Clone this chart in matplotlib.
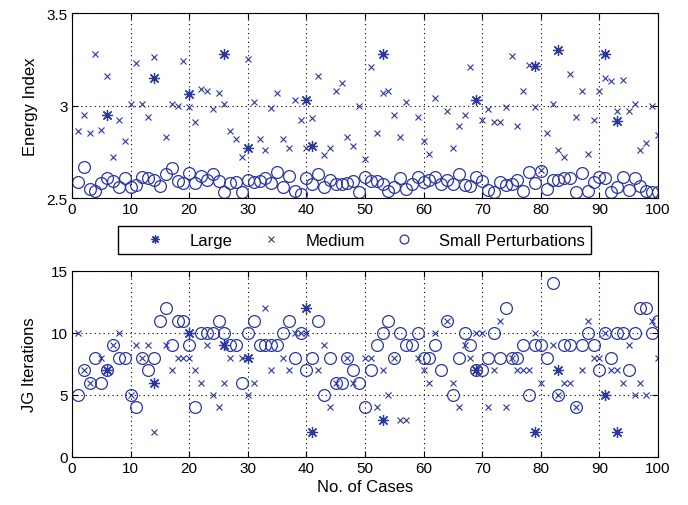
import numpy as np
import matplotlib
matplotlib.use("Agg")
import matplotlib.pyplot as plt

nan = np.nan
cases = np.arange(1, 101)

# ---- Energy index per case ----
energy_small = [
    2.585, 2.67, 2.55, 2.54, 2.58, 2.61, 2.59, 2.56, 2.61, 2.56,
    2.57, 2.615, 2.61, 2.60, 2.565, 2.63, 2.66, 2.59, 2.58, 2.635,
    2.58, 2.62, 2.60, 2.63, 2.59, 2.53, 2.58, 2.585, 2.53, 2.60,
    2.585, 2.59, 2.61, 2.58, 2.64, 2.56, 2.62, 2.54, 2.52, 2.61,
    2.576, 2.63, 2.56, 2.60, 2.576, 2.576, 2.58, 2.59, 2.535, 2.615,
    2.59, 2.59, 2.576, 2.54, 2.56, 2.61, 2.55, 2.576, 2.615, 2.585,
    2.60, 2.615, 2.576, 2.597, 2.576, 2.63, 2.57, 2.566, 2.615, 2.59,
    2.545, 2.535, 2.585, 2.57, 2.576, 2.60, 2.54, 2.64, 2.58, 2.648,
    2.55, 2.597, 2.60, 2.608, 2.61, 2.535, 2.633, 2.54, 2.585, 2.615,
    2.61, 2.535, 2.56, 2.615, 2.545, 2.61, 2.566, 2.54, 2.535, 2.53,
]
energy_medium = [
    2.86, 2.95, 2.85, 3.28, 2.87, 3.16, 2.72, 2.92, 2.81, 3.01,
    3.23, 3.01, 2.94, 3.26, nan, 2.83, 3.01, 3.00, 3.24, 2.99,
    2.91, 3.09, 3.08, 2.98, 3.07, 3.01, 2.86, 2.82, 2.72, 3.25,
    3.02, 2.82, 2.76, 2.985, 3.07, 2.82, 2.77, 3.03, 2.92, 2.77,
    2.93, 3.16, 2.73, 2.77, 3.08, 3.12, 2.83, 2.78, 3.00, 2.71,
    3.21, 2.85, 3.07, 3.08, 2.95, 2.83, 3.02, nan, 2.94, 2.81,
    2.74, 3.04, nan, 2.97, 2.77, 2.89, 2.95, 3.21, nan, 2.92,
    2.98, 2.91, 2.91, 2.99, 3.27, 2.89, 3.08, 3.22, 2.99, 2.65,
    2.85, 3.01, 2.76, 2.72, 3.17, 2.94, 3.08, 2.74, 2.92, 3.08,
    3.15, 3.13, 2.97, 3.14, 2.97, 3.01, 2.76, 2.80, 3.00, 2.84,
]
large_cases = [6, 14, 20, 26, 30, 40, 41, 53, 69, 79, 83, 91, 93]
energy_large = [2.95, 3.15, 3.06, 3.28, 2.77, 3.03, 2.78, 3.28, 3.03, 3.215, 3.30, 3.28, 2.915]

# ---- JG iterations per case ----
iter_small = [
    5, 7, 6, 8, 6, 7, 9, 8, 8, 5,
    4, 8, 7, 8, 11, 12, 9, 11, 11, 9,
    4, 10, 10, 10, 11, 10, 9, 9, 6, 10,
    11, 9, 9, 9, 9, 10, 11, 8, 10, 7,
    8, 11, 5, 8, 6, 6, 8, 7, 6, 4,
    7, 9, 10, 11, 8, 10, 9, 9, 10, 8,
    8, 9, 7, 11, 5, 8, 10, 9, 7, 7,
    8, 10, 8, 12, 8, 8, 9, 5, 9, 9,
    8, 14, 5, 9, 9, 4, 9, 10, 9, 7,
    10, 8, 10, 10, 7, 10, 12, 12, 10, 11,
]
iter_medium = [
    10, 7, 6, nan, 8, 7, 9, 10, nan, 5,
    9, 8, 9, 2, nan, 9, 7, 8, 8, 8,
    7, 6, 9, 5, 4, 6, 8, nan, 8, 5,
    6, nan, 12, 7, nan, 8, 7, 10, 10, 10,
    nan, 7, 9, 4, 6, nan, 8, 6, nan, 8,
    8, 4, 7, 5, 8, 3, 3, nan, 8, 7,
    6, 10, nan, 11, 6, 4, 9, 8, 10, 10,
    4, 7, 11, 4, 8, 7, 7, 7, 10, 6,
    nan, 9, 5, 6, 6, 4, 7, 11, 8, 8,
    10, 7, 7, 6, 9, 5, 6, 5, 11, 8,
]
iter_large = [7, 6, 10, 9, 8, 12, 2, 3, 7, 2, 7, 5, 2]

blue = "#2a37a0"
plt.rcParams["font.family"] = ["Liberation Sans", "DejaVu Sans"]
plt.rcParams["font.size"] = 11

fig = plt.figure(figsize=(6.88, 5.06), dpi=100)
ax1 = fig.add_axes([0.1047, 0.6067, 0.8517, 0.3656])
ax2 = fig.add_axes([0.1047, 0.0949, 0.8517, 0.3676])

star = (8, 2, 0)
style_large = dict(linestyle="none", marker=star, markersize=8, color=blue, mew=0.9)
style_medium = dict(linestyle="none", marker="x", markersize=5, color=blue, mew=0.8)
style_small = dict(linestyle="none", marker="o", markersize=8.5, mfc="none", mec=blue, mew=0.9)

for ax, lg, md, sm in [(ax1, energy_large, energy_medium, energy_small),
                       (ax2, iter_large, iter_medium, iter_small)]:
    h1, = ax.plot(large_cases, lg, **style_large)
    h2, = ax.plot(cases, md, **style_medium)
    h3, = ax.plot(cases, sm, **style_small)
    ax.set_xlim(0, 100)
    ax.set_xticks(np.arange(0, 101, 10))
    ax.grid(True, linestyle=(0, (1, 3)), color="black", linewidth=0.8)
    ax.tick_params(direction="in", top=True, right=True, length=4, labelsize=11, pad=3)
    for s in ax.spines.values():
        s.set_linewidth(0.8)

ax1.set_ylim(2.5, 3.5)
ax1.set_yticks([2.5, 3.0, 3.5])
ax1.set_yticklabels(["2.5", "3", "3.5"])
ax1.set_ylabel("Energy Index", fontsize=12, labelpad=6)

ax2.set_ylim(0, 15)
ax2.set_yticks([0, 5, 10, 15])
ax2.set_ylabel("JG Iterations", fontsize=12, labelpad=10)
ax2.set_xlabel("No. of Cases", fontsize=12, labelpad=3)

fig.legend([h1, h2, h3], ["Large", "Medium", "Small Perturbations"],
           loc="upper left", ncol=3, bbox_to_anchor=(118 / 688, 1 - 227 / 506),
           fancybox=False, edgecolor="black", framealpha=1,
           markerscale=0.75, handlelength=3.6, handletextpad=0.3,
           columnspacing=0.5, borderpad=0.4, fontsize=12, borderaxespad=0)

fig.savefig("out.png", dpi=100)
